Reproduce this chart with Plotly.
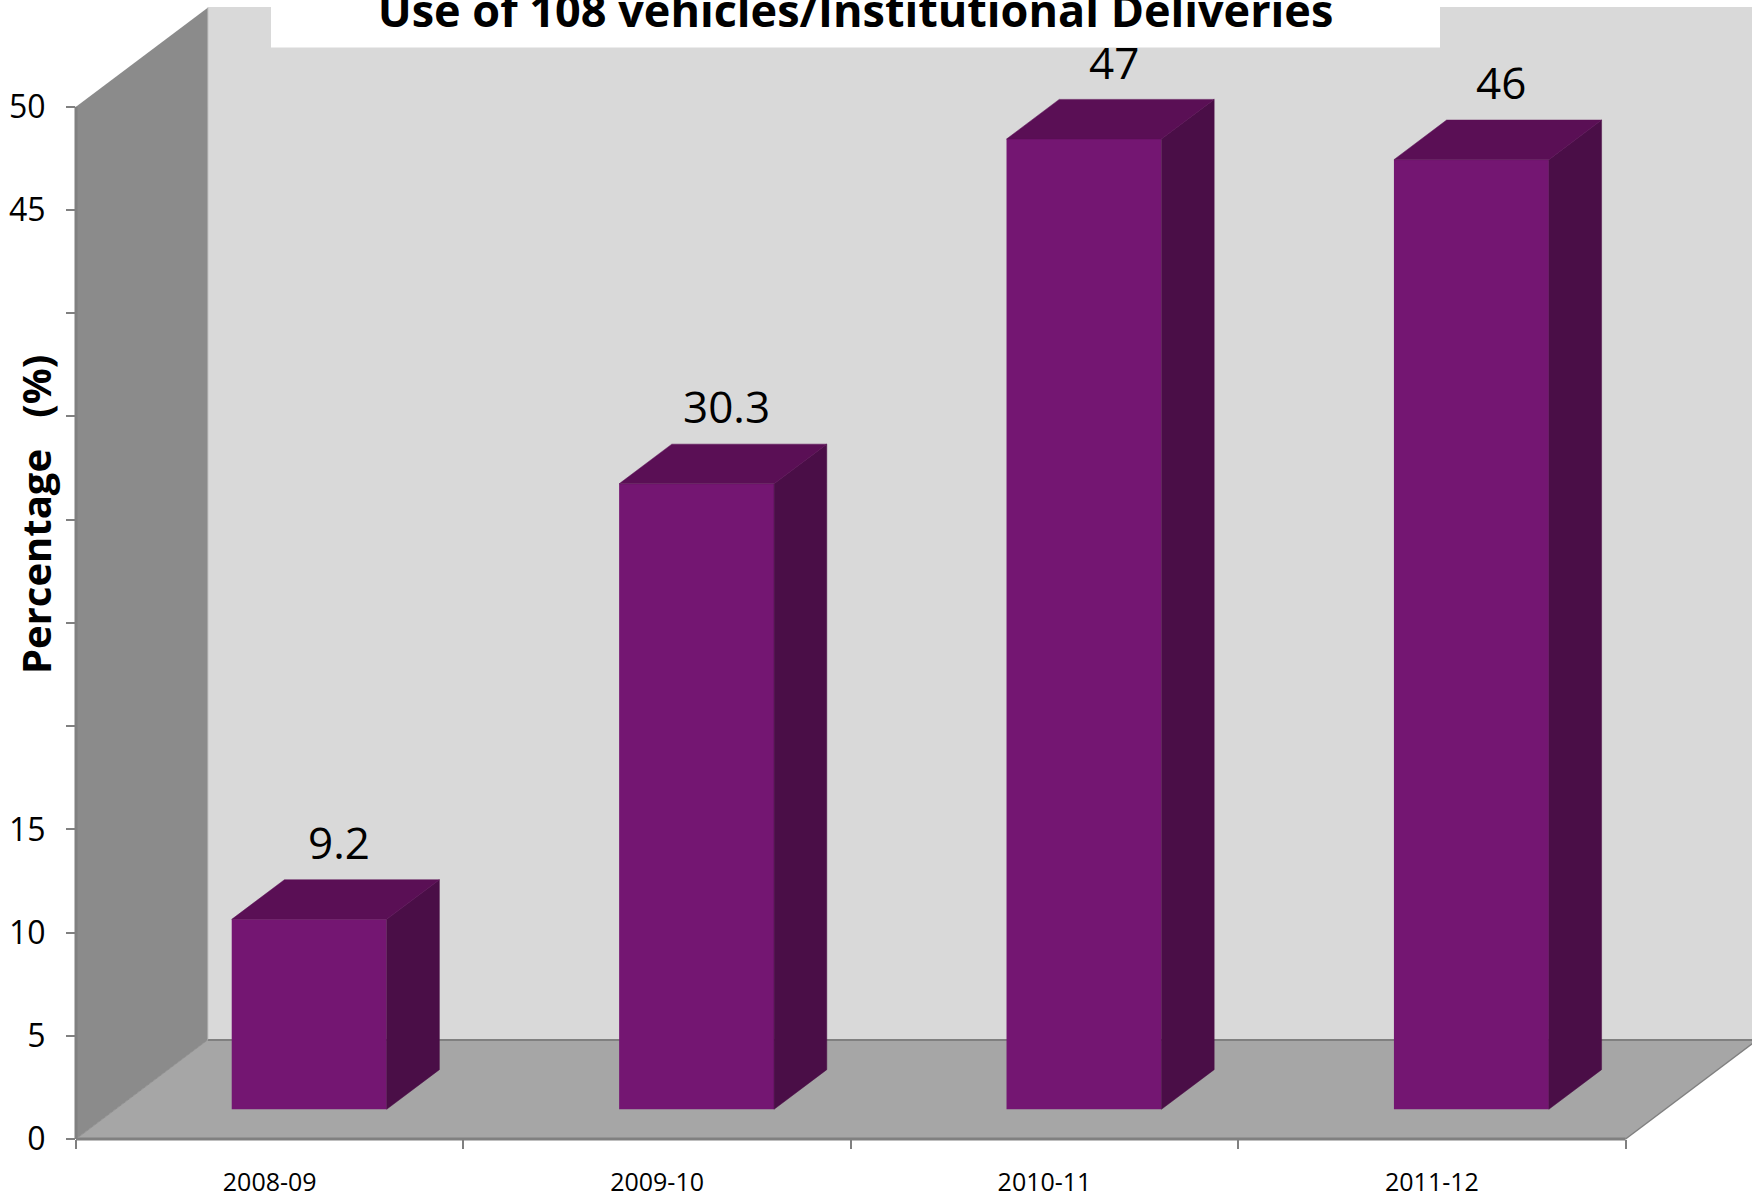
import plotly.graph_objects as go

# ---------------- data ----------------
categories = ["2008-09", "2009-10", "2010-11", "2011-12"]
values = [9.2, 30.3, 47, 46]
value_labels = ["9.2", "30.3", "47", "46"]
y_tick_values = [0, 5, 10, 15, 20, 25, 30, 35, 40, 45, 50]
y_tick_labels = ["0", "5", "10", "15", "", "", "", "", "", "45", "50"]
title_text = "Use of 108 vehicles/Institutional Deliveries"
y_title = "Percentage\u00a0\u00a0\u00a0(%)"

# ---------------- geometry / style ----------------
W, H = 1752, 1198
ML, MR, MT, MB = 76, 0, 7, 57
plot_w = W - ML - MR
plot_h = H - MT - MB
CAT_PX = 387.4          # pixels per category on the front plane
UNIT_PX = 20.68         # pixels per percentage unit
X0 = -0.5
X1 = X0 + plot_w / CAT_PX
Y0 = 0.0
Y1 = plot_h / UNIT_PX
Y_MAX = 50
DEPTH_X = 0.34          # full floor depth, in category units
DEPTH_Y = 4.8           # full floor depth, in value units
BAR_W = 0.4
BAR_FRONT = 0.3         # bar front plane depth fraction
BAR_DEPTH = 0.4         # bar depth fraction
N = len(categories)

C_LEFT = "#8b8b8b"
C_BACK = "#d9d9d9"
C_FLOOR = "#a6a6a6"
C_EDGE = "#808080"
C_FRONT = "#741672"
C_SIDE = "#4a0e47"
C_TOP = "#5a0f55"
FONT = "Open Sans"


def px(x):
    return (x - X0) / (X1 - X0)


def py(y):
    return (y - Y0) / (Y1 - Y0)


def ppx(p):
    return (p - ML) / plot_w


def ppy(p):
    return (H - MB - p) / plot_h


ox = BAR_FRONT * DEPTH_X
base = BAR_FRONT * DEPTH_Y
dx = BAR_DEPTH * DEPTH_X
dy = BAR_DEPTH * DEPTH_Y
xs = list(range(N))

shapes = []
# back wall
shapes.append(dict(type="rect", xref="paper", yref="paper",
                   x0=px(X0 + DEPTH_X), x1=1.0, y0=py(DEPTH_Y), y1=1.0,
                   fillcolor=C_BACK, line=dict(width=0), layer="below"))
# left wall
shapes.append(dict(type="path", xref="paper", yref="paper",
                   path=f"M{px(X0)},{py(0)} L{px(X0)},{py(Y_MAX)} L{px(X0 + DEPTH_X)},{py(Y_MAX + DEPTH_Y)} "
                        f"L{px(X0 + DEPTH_X)},{py(DEPTH_Y)} Z",
                   fillcolor=C_LEFT, line=dict(width=0), layer="below"))
# floor
xe = X0 + N
shapes.append(dict(type="path", xref="paper", yref="paper",
                   path=f"M{px(X0)},{py(0)} L{px(xe)},{py(0)} L{px(xe + DEPTH_X)},{py(DEPTH_Y)} "
                        f"L{px(X0 + DEPTH_X)},{py(DEPTH_Y)} Z",
                   fillcolor=C_FLOOR, line=dict(width=0), layer="below"))
# edges
edges = [
    ((X0, 0), (xe, 0), 3, C_EDGE),
    ((X0 + DEPTH_X, DEPTH_Y), (X1, DEPTH_Y), 2, C_EDGE),
    ((X0, 0), (X0 + DEPTH_X, DEPTH_Y), 1, "#909090"),
    ((xe, 0), (xe + DEPTH_X, DEPTH_Y), 1.5, C_EDGE),
    ((X0 + DEPTH_X, DEPTH_Y), (X0 + DEPTH_X, Y_MAX + DEPTH_Y), 1, "#a8a8a8"),
    ((X0, 0), (X0, Y_MAX), 3, C_EDGE),
]
for (a, b, w, c) in edges:
    shapes.append(dict(type="line", xref="paper", yref="paper",
                       x0=px(a[0]), y0=py(a[1]), x1=px(b[0]), y1=py(b[1]),
                       line=dict(width=w, color=c), layer="below"))
# white title band
shapes.append(dict(type="rect", xref="paper", yref="paper",
                   x0=ppx(271), x1=ppx(1440), y0=ppy(47.5), y1=ppy(-5),
                   fillcolor="white", line=dict(width=0), layer="above"))

fig = go.Figure()

# front faces
fig.add_trace(go.Bar(x=xs, y=values, base=base, width=BAR_W, offset=-BAR_W / 2 + ox,
                     marker=dict(color=C_FRONT, line=dict(width=0)), showlegend=False,
                     hoverinfo="skip"))

# side and top faces
sx, sy = [], []
tx, ty = [], []
for i, v in zip(xs, values):
    xl = i - BAR_W / 2 + ox
    xr = xl + BAR_W
    sx += [xr, xr + dx, xr + dx, xr, xr, None]
    sy += [base, base + dy, base + v + dy, base + v, base, None]
    tx += [xl, xl + dx, xr + dx, xr, xl, None]
    ty += [base + v, base + v + dy, base + v + dy, base + v, base + v, None]

fig.add_trace(go.Scatter(x=sx, y=sy, mode="lines", fill="toself", fillcolor=C_SIDE,
                         line=dict(width=0.5, color=C_SIDE), showlegend=False, hoverinfo="skip"))
fig.add_trace(go.Scatter(x=tx, y=ty, mode="lines", fill="toself", fillcolor=C_TOP,
                         line=dict(width=0.5, color=C_TOP), showlegend=False, hoverinfo="skip"))

# value labels
LABEL_DX = 0.077
LABEL_DY = 3.75
annotations = []
for i, v, t in zip(xs, values, value_labels):
    annotations.append(dict(x=i + ox + LABEL_DX, y=base + v + LABEL_DY, xref="x", yref="y",
                            text=t, showarrow=False, xanchor="center", yanchor="middle",
                            font=dict(family=FONT, size=44, color="black")))
# y axis title
annotations.append(dict(x=ppx(35), y=ppy(516), xref="paper", yref="paper",
                        text=f"<b>{y_title}</b>", textangle=-90, showarrow=False,
                        xanchor="center", yanchor="middle",
                        font=dict(family=FONT, size=40, color="black")))

fig.update_layout(
    width=W, height=H,
    margin=dict(l=ML, r=MR, t=MT, b=MB, pad=0),
    paper_bgcolor="white", plot_bgcolor="white",
    title=dict(text=f"<b>{title_text}</b>", x=855.5 / W, xanchor="center",
               y=1 - 11.5 / H, yanchor="middle", yref="container",
               font=dict(family=FONT, size=45, color="black")),
    shapes=shapes,
    annotations=annotations,
    xaxis=dict(type="linear", range=[X0, X1], tickmode="array", tickvals=xs, ticktext=categories,
               ticks="", showgrid=False, zeroline=False, showline=False,
               tickfont=dict(family=FONT, size=25, color="black"), ticklabelstandoff=26,
               minor=dict(tickmode="array", tickvals=[X0 + k for k in range(N + 1)],
                          ticks="outside", ticklen=9, tickwidth=2, tickcolor=C_EDGE, showgrid=False)),
    yaxis=dict(range=[Y0, Y1], tickmode="array", tickvals=y_tick_values, ticktext=y_tick_labels,
               ticks="outside", ticklen=9, tickwidth=2, tickcolor=C_EDGE,
               showgrid=False, zeroline=False, showline=False,
               tickfont=dict(family=FONT, size=32, color="black"), ticklabelstandoff=14),
)

fig.write_html("out.html", config={"displayModeBar": False},
               post_script="document.body.style.margin='0';document.body.style.overflow='hidden';")
